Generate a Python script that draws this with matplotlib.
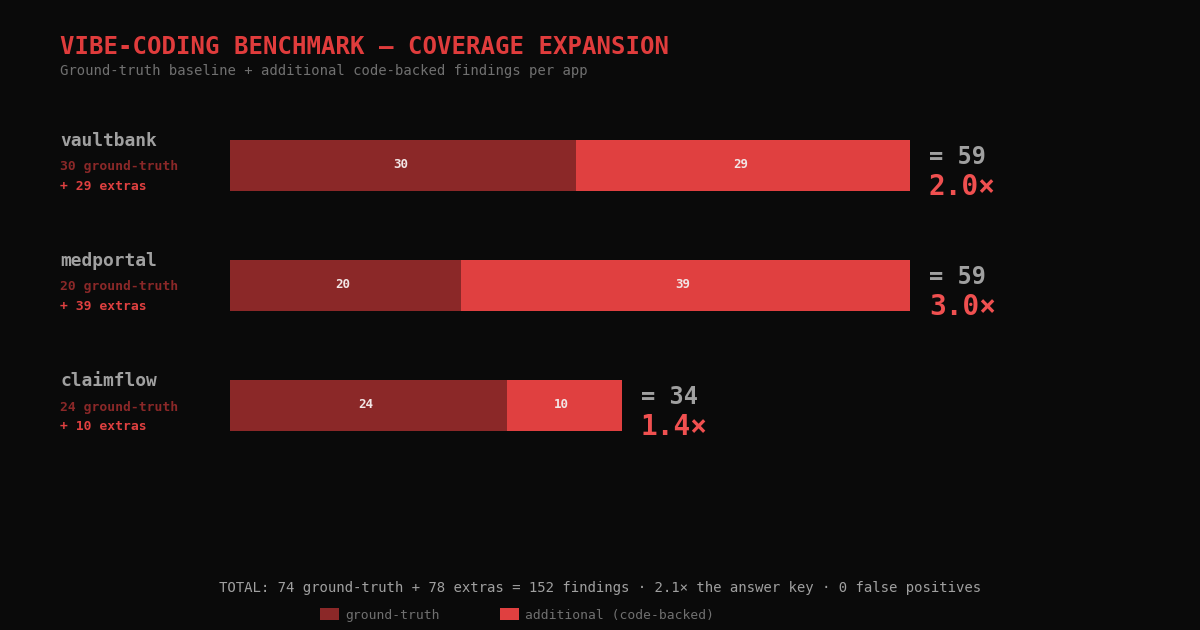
import matplotlib
matplotlib.use("Agg")
import matplotlib.pyplot as plt
from matplotlib import rcParams
from matplotlib.transforms import offset_copy

BG = "#0a0a0a"; GT = "#8b2828"; EXTRA = "#e04040"; TITLE = "#e03c3c"
GRAY = "#a0a0a0"; MUTED = "#707070"; RATIO = "#f05050"; BARTXT = "#f2e6e6"

apps = ["vaultbank", "medportal", "claimflow"]
ground_truth = [30, 20, 24]
extras = [29, 39, 10]

rcParams.update({"font.family": "DejaVu Sans Mono",
                 "figure.facecolor": BG, "savefig.facecolor": BG, "axes.facecolor": BG})

W, H = 1200, 630
fig = plt.figure(figsize=(12, 6.3), dpi=100)

def fx(px): return px / W
def fy(py): return 1 - py / H

fig.text(fx(60), fy(47), "VIBE-CODING BENCHMARK — COVERAGE EXPANSION", color=TITLE,
         fontsize=17.25, weight="bold", va="center", ha="left")
fig.text(fx(60), fy(71), "Ground-truth baseline + additional code-backed findings per app",
         color=MUTED, fontsize=10, va="center", ha="left")

totals = [g + e for g, e in zip(ground_truth, extras)]
ax = fig.add_axes([fx(230), fy(465), fx(910) - fx(230), fy(105) - fy(465)])
ax.set_xlim(0, max(totals))
ax.set_ylim(len(apps) - 0.5, -0.5)
ax.axis("off")

ys = list(range(len(apps)))
b1 = ax.barh(ys, ground_truth, height=0.425, color=GT, label="ground-truth")
b2 = ax.barh(ys, extras, left=ground_truth, height=0.425, color=EXTRA,
             label="additional (code-backed)")

tr_in = offset_copy(ax.transData, fig=fig, x=-2.5, y=0, units="dots")
tr_up = offset_copy(ax.transData, fig=fig, x=19, y=8, units="dots")
tr_dn = offset_copy(ax.transData, fig=fig, x=19, y=-22, units="dots")

for y, g, e, t, name in zip(ys, ground_truth, extras, totals, apps):
    ax.text(g / 2, y, str(g), color=BARTXT, fontsize=9, weight="bold", ha="center",
            va="center", transform=tr_in)
    ax.text(g + e / 2, y, str(e), color=BARTXT, fontsize=9, weight="bold", ha="center",
            va="center", transform=tr_in)
    ax.text(t, y, f"= {t}", color=GRAY, fontsize=17, weight="bold", ha="left", va="center",
            transform=tr_up)
    ax.text(t, y, f"{t / g:.1f}×", color=RATIO, fontsize=20, weight="bold", ha="left",
            va="center", transform=tr_dn)
    # left labels
    yc = 165 + 120 * y
    fig.text(fx(60), fy(yc - 24), name, color=GRAY, fontsize=12.9, weight="bold", va="center")
    fig.text(fx(60), fy(yc + 2), f"{g} ground-truth", color=GT, fontsize=9.4, weight="bold",
             va="center")
    fig.text(fx(60), fy(yc + 21), f"+ {e} extras", color=EXTRA, fontsize=9.4, weight="bold",
             va="center")

tg, te = sum(ground_truth), sum(extras)
fig.text(0.5, fy(588),
         f"TOTAL: {tg} ground-truth + {te} extras = {tg + te} findings · "
         f"{(tg + te) / tg:.1f}× the answer key · 0 false positives",
         color=GRAY, fontsize=10.05, ha="center", va="center")

leg = fig.legend(handles=[b1, b2], loc="center", bbox_to_anchor=(fx(517), fy(615)),
                 ncol=2, frameon=False, fontsize=9.4, handlelength=1.45, handleheight=1.0,
                 handletextpad=0.5, columnspacing=4.6, borderpad=0, labelcolor=MUTED)

fig.savefig("out.png", dpi=100, facecolor=BG)
